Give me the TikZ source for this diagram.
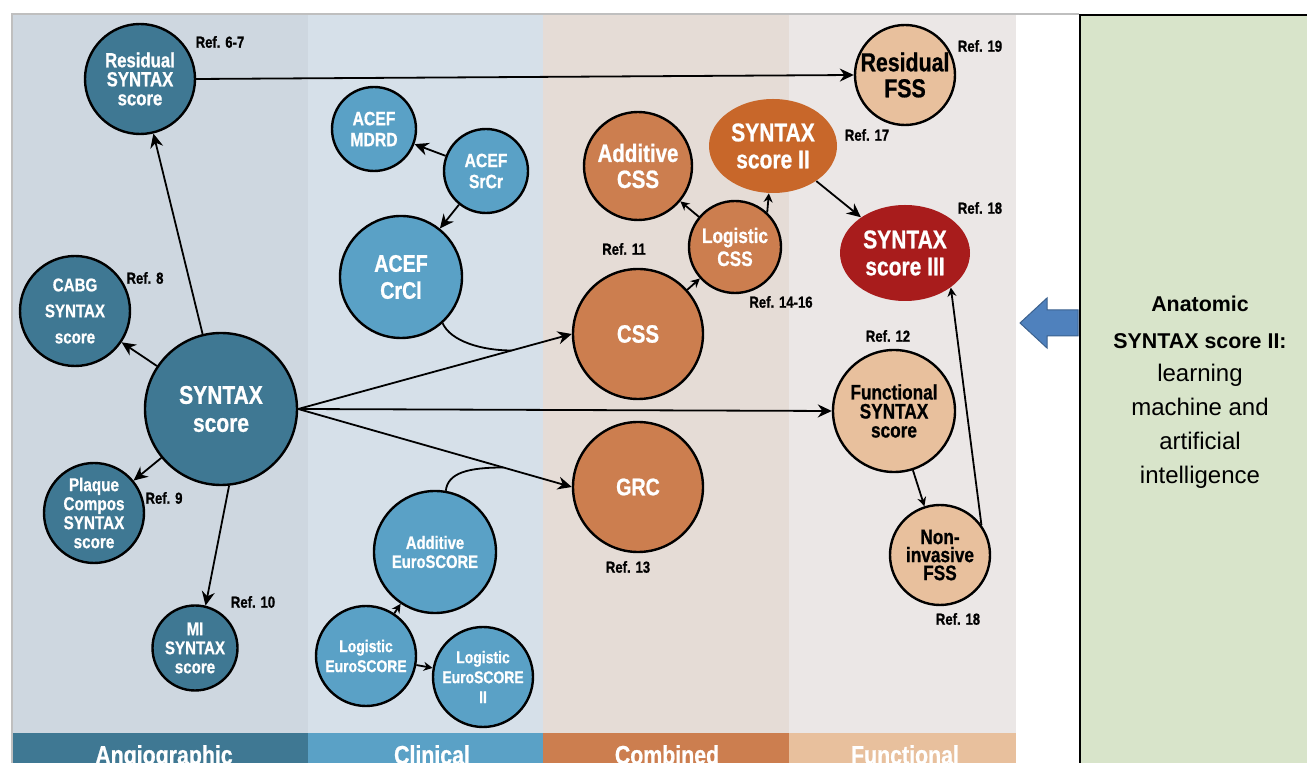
\documentclass[tikz,border=0pt]{standalone}
\usepackage{fontspec}
\setmainfont{Liberation Sans}
\newfontfamily\condsans[FakeStretch=0.82, BoldFeatures={FakeBold=0.8}]{Liberation Sans}
\usetikzlibrary{calc}
\usetikzlibrary{shapes.geometric}
\usetikzlibrary{arrows.meta}

\definecolor{angiofill}{HTML}{3F7893}
\definecolor{clinfill}{HTML}{5AA1C6}
\definecolor{combfill}{HTML}{CC7E4F}
\definecolor{funcfill}{HTML}{E8C09D}
\definecolor{sxtwo}{HTML}{C8672A}
\definecolor{sxthree}{HTML}{A81C1C}
\definecolor{angiobg}{HTML}{CED7E0}
\definecolor{clinbg}{HTML}{D6E0E9}
\definecolor{combbg}{HTML}{E5DCD6}
\definecolor{funcbg}{HTML}{EBE7E6}
\definecolor{aigreen}{HTML}{D8E4CA}
\definecolor{bigarrow}{HTML}{4F81BD}

\newcommand{\fsz}[2]{\fontsize{#1}{#2}\selectfont}

\tikzset{
  bubble/.style={circle, draw=black, line width=1.2pt, minimum size=#1pt, inner sep=0pt, align=center},
  angio/.style={bubble=#1, fill=angiofill, text=white},
  clin/.style={bubble=#1, fill=clinfill, text=white},
  comb/.style={bubble=#1, fill=combfill, text=white},
  func/.style={bubble=#1, fill=funcfill, text=black},
  oval/.style 2 args={ellipse, minimum width=#1pt, minimum height=#2pt, inner sep=0pt, align=center, text=white},
  txt/.style 2 args={font=\condsans\bfseries\fsz{#1}{#2}},
  ref/.style={font=\condsans\bfseries\fsz{8}{9}, inner sep=0pt},
  conn/.style={line width=0.9pt},
  arr/.style={conn, -{Stealth[length=7pt, width=6.5pt]}},
  sarr/.style={conn, -{Stealth[length=4.5pt, width=4.5pt]}},
}

\begin{document}
\begin{tikzpicture}[x=0.5pt, y=-0.5pt]
\useasboundingbox (0,0) rectangle (1307,763);

\fill[angiobg] (12,14) rectangle (308,733);
\fill[clinbg] (308,14) rectangle (543,733);
\fill[combbg] (543,14) rectangle (789,733);
\fill[funcbg] (789,14) rectangle (1016,733);
\fill[angiofill] (12,733) rectangle (308,763);
\fill[clinfill] (308,733) rectangle (543,763);
\fill[combfill] (543,733) rectangle (789,763);
\fill[funcfill] (789,733) rectangle (1016,763);

\begin{scope}
\clip (0,0) rectangle (1307,763);
\node[txt={13}{14}, text=white, anchor=base, inner sep=0pt] (lbang) at (164,764) {Angiographic};
\node[txt={13}{14}, text=white, anchor=base, inner sep=0pt] (lbclin) at (432,764) {Clinical};
\node[txt={13}{14}, text=white, anchor=base, inner sep=0pt] (lbcomb) at (667,764) {Combined};
\node[txt={13}{14}, text=white, anchor=base, inner sep=0pt] (lbfunc) at (905,764) {Functional};
\end{scope}

\draw[black!25, line width=1pt] (12,763) -- (12,14) -- (1079,14);

\node[draw=black, line width=1pt, fill=aigreen, anchor=north west,
  minimum width=130pt, minimum height=390pt] (aibox) at (1079,14) {};
\node[font=\bfseries\fsz{10.7}{18.5}, align=center, inner sep=0pt] (aititle) at (1200,322) {Anatomic\\SYNTAX score II:};
\node[font=\fsz{12}{17}, align=center, inner sep=0pt] (aitext) at (1200,426) {learning\\machine and\\artificial\\intelligence};
\filldraw[fill=bigarrow, draw=bigarrow!75!black, line width=0.5pt]
  (1078,310) -- (1047,310) -- (1047,298) -- (1020,323) -- (1047,348) -- (1047,336) -- (1078,336) -- cycle;

\node[angio=55, txt={10.2}{9.5}] (rss) at (140,79) {Residual\\SYNTAX\\score};
\node[angio=55, txt={9.2}{13}] (cabg) at (75,311) {CABG\\SYNTAX\\score};
\node[angio=76, txt={12.8}{14}] (ss) at (221,409) {SYNTAX\\score};
\node[angio=50, txt={9.3}{9.5}] (pcss) at (94,513) {Plaque\\Compos\\SYNTAX\\score};
\node[angio=42.5, txt={9.2}{9.5}] (mi) at (195,648) {MI\\SYNTAX\\score};

\node[clin=42, txt={9.6}{10.5}] (mdrd) at (374,129) {ACEF\\MDRD};
\node[clin=42, txt={9.6}{10.5}] (srcr) at (486,171) {ACEF\\SrCr};
\node[clin=61, txt={12}{13.5}] (crcl) at (401,277) {ACEF\\CrCl};
\node[clin=61, txt={9}{9.5}] (addes) at (435,552) {Additive\\EuroSCORE};
\node[clin=50, txt={8.5}{10}] (loges) at (366,656) {Logistic\\EuroSCORE};
\node[clin=50, txt={8.5}{10}] (logestwo) at (483,677) {Logistic\\EuroSCORE\\II};

\node[comb=54, txt={12.5}{13}] (addcss) at (638,166) {Additive\\CSS};
\node[oval={64}{47}, fill=sxtwo, txt={12.8}{13.5}] (sstwo) at (773,146) {SYNTAX\\score II};
\node[comb=46, txt={10.5}{11.5}] (lcss) at (735,247) {Logistic\\CSS};
\node[comb=65, txt={12.5}{13}] (css) at (638,334) {CSS};
\node[comb=65, txt={12}{13}] (grc) at (638,487) {GRC};

\node[func=50, txt={13}{13}] (rfss) at (905,75) {Residual\\FSS};
\node[oval={65}{48}, fill=sxthree, txt={12.8}{13.5}] (ssthree) at (905,253) {SYNTAX\\score III};
\node[func=61, txt={10.5}{9.5}] (fss) at (894,411) {Functional\\SYNTAX\\score};
\node[func=50, txt={10.5}{9}] (nifss) at (940,555) {Non-\\invasive\\FSS};

\node[ref] (rsix) at (220,42) {Ref. 6-7};
\node[ref] (reight) at (145,278) {Ref. 8};
\node[ref] (rnine) at (164,498) {Ref. 9};
\node[ref] (rten) at (253,602) {Ref. 10};
\node[ref] (releven) at (624,249) {Ref. 11};
\node[ref] (rtwelve) at (888,336) {Ref. 12};
\node[ref] (rthirteen) at (628,567) {Ref. 13};
\node[ref] (rfourteen) at (781,302) {Ref. 14-16};
\node[ref] (rseventeen) at (867,135) {Ref. 17};
\node[ref] (reighteena) at (980,208) {Ref. 18};
\node[ref] (reighteenb) at (958,619) {Ref. 18};
\node[ref] (rnineteen) at (980,46) {Ref. 19};

\coordinate (jcrcl) at ($(ss.east)!0.78!(css.west)$);
\coordinate (jeuro) at ($(ss.east)!0.75!(grc.west)$);

\draw[arr] (ss) -- (rss);
\draw[arr] (rss.east) -- (rfss.west);
\draw[arr] (ss) -- (cabg);
\draw[arr] (ss) -- (pcss);
\draw[arr] (ss.-84) -- (mi.76);
\draw[arr] (ss.east) -- (css.west);
\draw[arr] (ss.east) -- (fss.west);
\draw[arr] (ss.east) -- (grc.west);
\draw[conn] (crcl.-48) .. controls +(8,18) and +(-30,0) .. (jcrcl);
\draw[conn] (addes.80) .. controls +(2,-18) and +(-35,0) .. (jeuro);
\draw[arr] (srcr) -- (mdrd);
\draw[arr] (srcr) -- (crcl);
\draw[sarr] (loges) -- (addes);
\draw[sarr] (loges) -- (logestwo);
\draw[sarr] (css) -- (lcss);
\draw[sarr] (lcss) -- (addcss);
\draw[sarr] (lcss.47) -- (sstwo.-95);
\draw[arr] (sstwo) -- (ssthree);
\draw[sarr] (fss) -- (nifss);
\draw[sarr] (nifss.36) -- (ssthree.-37);
\end{tikzpicture}
\end{document}
